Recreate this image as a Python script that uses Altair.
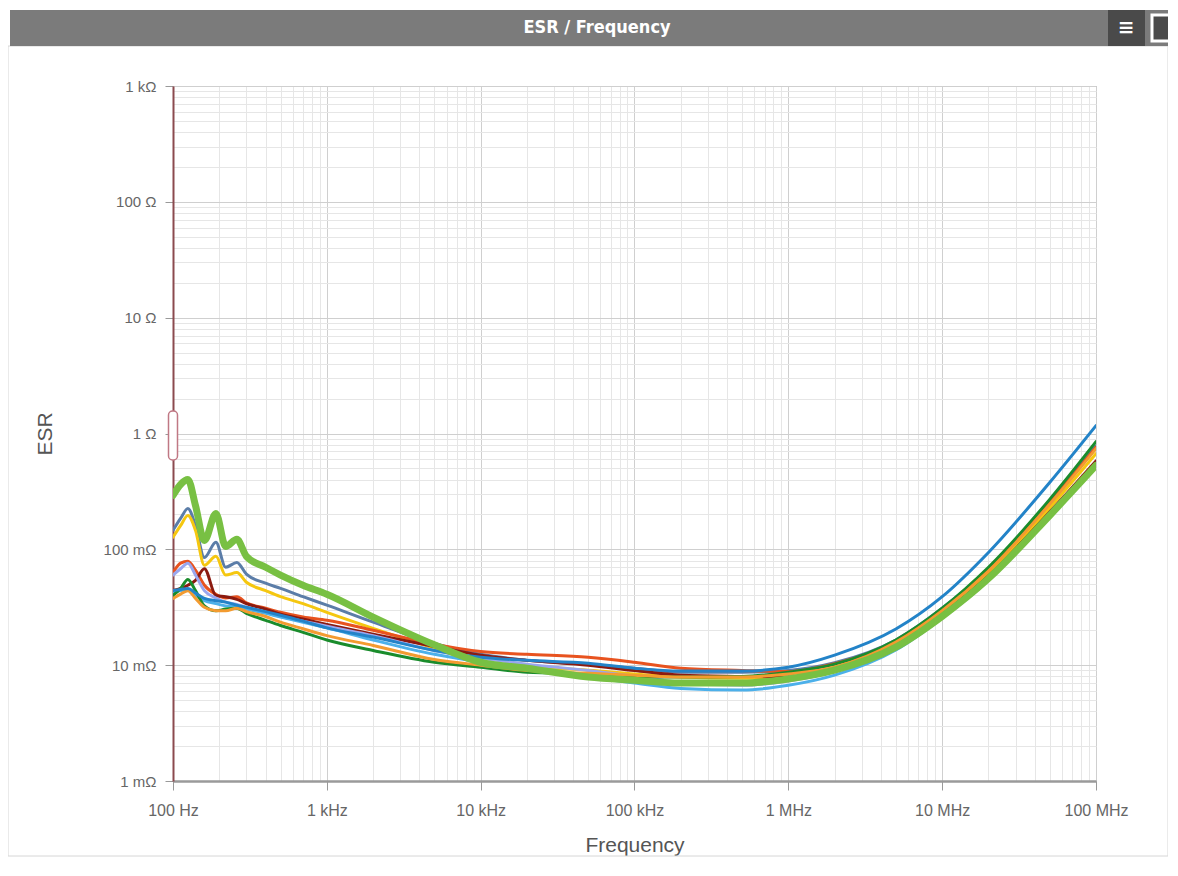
import altair as alt
import pandas as pd

# ---- data (ESR in mΩ, frequency in Hz) ----
freqs = [100, 112, 125, 140, 160, 190, 220, 260, 300, 400, 500, 700,
         1e3, 2e3, 5e3, 1e4, 2e4, 5e4, 1e5, 2e5, 5e5,
         1e6, 2e6, 5e6, 1e7, 2e7, 5e7, 1e8]

s_green = [292, 363, 400, 239, 119, 204, 106, 122, 87, 70, 60, 49,
           41, 26, 15, 10.6, 9.4, 7.9, 7.4, 7.0, 7.0,
           7.6, 9.05, 14.3, 26.4, 56, 196, 530]
s_steel = [146, 185, 225, 160, 85, 115, 70, 77, 61, 51, 46, 39,
           33, 23.5, 15.4, 12.4, 11, 10.2, 9.4, 8.7, 8.7,
           9.0, 10.5, 16.5, 31, 68, 255, 780]
s_yellow = [127, 160, 196, 146, 73, 87, 60, 63, 52, 44, 39, 34,
            28.6, 20.8, 14, 10.5, 9.6, 9.05, 8.4, 7.9, 7.7,
            7.7, 9.6, 15.2, 28.5, 62, 228, 670]
s_orangered = [63, 76, 79, 66, 49, 41, 38, 39, 34.5, 31, 28.6, 26,
               24.4, 20, 15.2, 13.1, 12.4, 11.7, 10.6, 9.4, 9.0,
               8.8, 10.3, 16, 30, 66, 250, 760]
s_darkred = [44, 46, 49, 54, 68, 40, 39, 37, 34, 30.5, 27.5, 25,
             22.5, 18.5, 14.5, 12.2, 11, 10, 9.0, 8.2, 8.0,
             7.9, 9.3, 14.8, 27.5, 59, 210, 580]
s_lavender = [60, 68, 76, 60, 44, 38, 35, 33.5, 31.6, 28.6, 26.3, 24,
              21.7, 18, 13.4, 11.5, 10.2, 9.0, 8.0, 7.1, 6.7,
              7.3, 8.8, 14.2, 26.5, 57, 200, 550]
s_cyan = [42.5, 44, 45, 40, 36, 34, 32.5, 32, 30.5, 28, 26, 23.5,
          21, 16.5, 12.4, 10.6, 9.2, 7.9, 7.0, 6.3, 6.1,
          6.7, 8.2, 13.5, 25.5, 54, 190, 520]
s_darkgreen = [40, 46, 55, 44, 32.5, 29.5, 30.5, 31, 28, 24.4, 22, 19.2,
               16.5, 13.4, 10.6, 9.6, 8.7, 8.4, 8.0, 7.9, 8.0,
               8.7, 10.2, 16.5, 31, 70, 270, 850]
s_blue = [44, 45, 46, 42, 37.7, 36, 35, 33, 31.6, 29, 27, 24,
          21, 17.5, 13.4, 11.7, 11, 10.4, 9.4, 8.9, 8.9,
          9.6, 12.2, 20.5, 39, 94, 378, 1170]
s_orange = [37.7, 41, 44, 37.7, 31.6, 29.5, 29.5, 31, 29, 26.3, 23.5, 20.6,
            18, 14.8, 11.2, 10, 9.0, 8.5, 8.2, 7.9, 7.9,
            8.4, 9.6, 15.8, 29.5, 65, 245, 740]

series_names = ["C1", "C2", "C3", "C4", "C5", "C6", "C7", "C8", "C9", "C10"]
series_vals = [s_steel, s_yellow, s_orangered, s_darkred, s_lavender,
               s_cyan, s_darkgreen, s_orange, s_blue, s_green]
series_colors = ["#5b7da8", "#f5c710", "#e8531f", "#8b1a10", "#9aa6ee",
                 "#4cb0ea", "#1a8c2c", "#f39b30", "#2383c8", "#78c043"]

x_tick_values = [m * 10 ** k for k in range(2, 8) for m in range(1, 10)] + [10 ** 8]
y_tick_values = [round(m * 10.0 ** k, 6) for k in range(-3, 3) for m in range(1, 10)] + [1000]

rows = []
for name, vals in zip(series_names, series_vals):
    for f, v in zip(freqs, vals):
        rows.append({"series": name, "freq": f, "esr": v / 1000.0})
df = pd.DataFrame(rows)

DEC = "abs(log(datum.value)/LN10 - round(log(datum.value)/LN10)) < 0.001"
FONT = "Liberation Sans"

x_axis = alt.Axis(
    values=x_tick_values,
    labelExpr=("!(" + DEC + ") ? '' : datum.value >= 1e6 ? format(datum.value/1e6,'.0f') + ' MHz' : "
               "datum.value >= 1e3 ? format(datum.value/1e3,'.0f') + ' kHz' : format(datum.value,'.0f') + ' Hz'"),
    title="Frequency", grid=True,
    gridColor={"condition": {"test": DEC, "value": "#cfcfcf"}, "value": "#e6e6e6"},
    tickColor={"condition": {"test": DEC, "value": "#999999"}, "value": "transparent"},
    tickSize=9, labelPadding=12, labelFlush=False, labelOverlap=False,
    domainColor="#9a9a9a", domainWidth=2.5,
    labelFont=FONT, labelFontSize=16, labelColor="#666666",
    titleFont=FONT, titleFontSize=21, titleFontWeight="normal", titleColor="#555555",
    titleX=461.5, titleY=64, titleBaseline="middle", zindex=0,
)
y_axis = alt.Axis(
    values=y_tick_values,
    labelExpr=("!(" + DEC + ") ? '' : datum.value >= 1000 ? '1 kΩ' : datum.value >= 1 ? "
               "format(datum.value,'.0f') + ' Ω' : format(datum.value*1000,'.0f') + ' mΩ'"),
    title="ESR", grid=True,
    gridColor={"condition": {"test": DEC, "value": "#cfcfcf"}, "value": "#e6e6e6"},
    tickColor={"condition": {"test": DEC, "value": "#999999"}, "value": "transparent"},
    tickSize=8, labelPadding=9, labelOverlap=False,
    domainColor="#8b4a4f", domainWidth=2,
    labelFont=FONT, labelFontSize=15, labelColor="#666666",
    titleFont=FONT, titleFontSize=21, titleFontWeight="normal", titleColor="#555555",
    titleX=-128, titleY=347.5, titleBaseline="middle", zindex=0,
)

xs = alt.Scale(type="log", domain=[100, 1e8], nice=False)
ys = alt.Scale(type="log", domain=[0.001, 1000], nice=False)
cs = alt.Scale(domain=series_names, range=series_colors)

base = alt.Chart(df)
others = base.transform_filter(alt.datum.series != "C10").mark_line(
    interpolate="monotone", strokeWidth=3, clip=True, strokeCap="round"
).encode(
    x=alt.X("freq:Q", scale=xs, axis=x_axis),
    y=alt.Y("esr:Q", scale=ys, axis=y_axis),
    color=alt.Color("series:N", scale=cs, legend=None),
)
green = base.transform_filter(alt.datum.series == "C10").mark_line(
    interpolate="monotone", strokeWidth=7, clip=True, strokeCap="round"
).encode(
    x=alt.X("freq:Q", scale=xs, axis=x_axis),
    y=alt.Y("esr:Q", scale=ys, axis=y_axis),
    color=alt.Color("series:N", scale=cs, legend=None),
)

one = alt.Data(values=[{"a": 1}])
frame = alt.Chart(one).mark_rect(fillOpacity=0, stroke="#d6d6d6", strokeWidth=1).encode(
    x=alt.value(-165), x2=alt.value(995), y=alt.value(-40), y2=alt.value(770))
titlebar = alt.Chart(one).mark_rect(fill="#7b7b7b").encode(
    x=alt.value(-163), x2=alt.value(1000), y=alt.value(-76), y2=alt.value(-40))
title_text = alt.Chart(one).mark_text(
    text="ESR / Frequency", font="'DejaVu Sans Condensed', 'Liberation Sans', sans-serif",
    fontSize=18, fontWeight="bold",
    color="white", align="center", baseline="middle").encode(
    x=alt.value(424), y=alt.value(-58))
icon_box = alt.Chart(one).mark_rect(fill="#4a4a4a").encode(
    x=alt.value(935), x2=alt.value(972), y=alt.value(-76), y2=alt.value(-40))
icon_text = alt.Chart(one).mark_text(
    text="≡", font="DejaVu Sans", fontSize=20, fontWeight="bold", color="white",
    align="center", baseline="middle").encode(x=alt.value(953), y=alt.value(-58))
icon_sq = alt.Chart(one).mark_rect(fill="#4a4a4a", stroke="white", strokeWidth=3).encode(
    x=alt.value(979), x2=alt.value(1010), y=alt.value(-71), y2=alt.value(-45))
handle = alt.Chart(one).mark_rect(fill="white", stroke="#c07884", strokeWidth=1.5,
                                  cornerRadius=4).encode(
    x=alt.value(-4.5), x2=alt.value(4.5), y=alt.value(325), y2=alt.value(374))

chart = alt.layer(
    frame, titlebar, title_text, icon_box, icon_text, icon_sq, others, green, handle
).properties(
    width=923, height=695,
    padding={"left": 165, "top": 78, "right": 72, "bottom": 77},
    autosize=alt.AutoSizeParams(type="none"),
    background="white",
).configure_view(stroke="#a8a8a8", strokeWidth=1)

chart.save("out.html", embed_options={"renderer": "svg", "actions": False})
